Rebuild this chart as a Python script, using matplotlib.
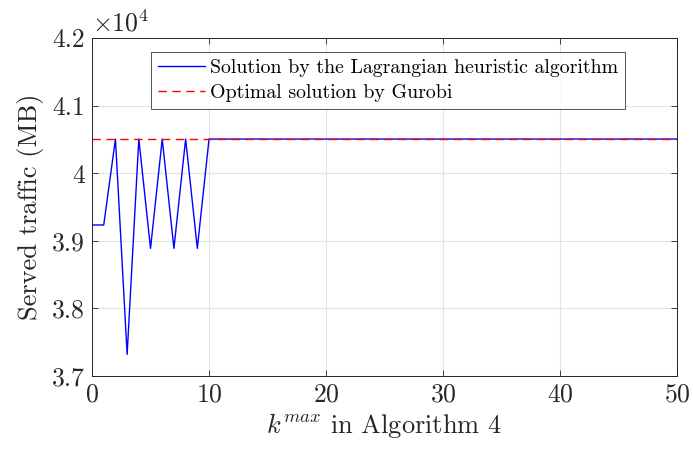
import matplotlib
matplotlib.use("Agg")
import matplotlib.pyplot as plt
import numpy as np

plt.rcParams['font.family'] = 'serif'
plt.rcParams['font.serif'] = ['cmr10']
plt.rcParams['mathtext.fontset'] = 'cm'
plt.rcParams['axes.formatter.use_mathtext'] = True

k_heur = [0, 1, 2, 3, 4, 5, 6, 7, 8, 9, 10, 50]
traffic_heur = [39234, 39234, 40505, 37320, 40505, 38888, 40505, 38888, 40505, 38888, 40505, 40505]
k_opt = [0, 50]
traffic_opt = [40505, 40505]
xticks = [0, 10, 20, 30, 40, 50]
yticks = [37000, 38000, 39000, 40000, 41000, 42000]
ytick_labels = ['3.7', '3.8', '3.9', '4', '4.1', '4.2']

fig = plt.figure(figsize=(6.93, 4.5), dpi=100)
ax = fig.add_axes([0.1328, 0.1644, 0.8441, 0.7512])

ax.plot(k_heur, traffic_heur, color='#0000ff', lw=1.0,
        label='Solution by the Lagrangian heuristic algorithm')
ax.plot(k_opt, traffic_opt, color='#ff0000', lw=1.0, ls=(0, (6, 4)),
        label='Optimal solution by Gurobi')

ax.set_xlim(0, 50)
ax.set_ylim(37000, 42000)
ax.set_xticks(xticks)
ax.set_yticks(yticks)
ax.set_yticklabels(ytick_labels)
ax.tick_params(direction='in', top=True, right=True, labelsize=18.5, length=4,
               width=0.6, color='#262626', labelcolor='#262626', pad=5)
ax.grid(True, color='#e3e3e3', lw=0.8)
ax.set_axisbelow(True)
for s in ax.spines.values():
    s.set_color('#262626')
    s.set_linewidth(0.7)

ax.set_xlabel(r'$k^{max}$ in Algorithm 4', fontsize=19, color='#262626', labelpad=3)
ax.set_ylabel('Served traffic (MB)', fontsize=19, color='#262626', labelpad=6)
ax.text(0.0, 1.005, r'$\times 10^4$', transform=ax.transAxes, fontsize=18.5,
        ha='left', va='bottom', color='#262626')

leg = ax.legend(loc='upper left', bbox_to_anchor=(151/693, 1 - 52/450),
                bbox_transform=fig.transFigure, fontsize=14.3, frameon=True,
                fancybox=False, edgecolor='#262626', borderpad=0.35,
                labelspacing=0.35, handlelength=2.35, handletextpad=0.25,
                borderaxespad=0)
leg.get_frame().set_linewidth(0.7)

fig.savefig('out.png', dpi=100)
